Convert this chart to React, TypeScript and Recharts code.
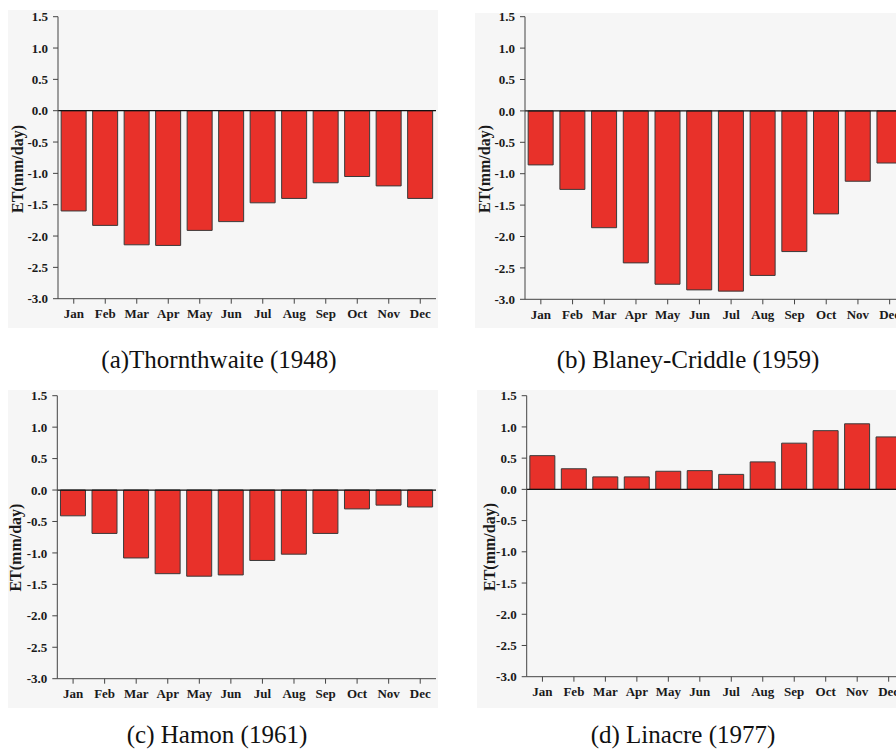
import React from 'react';
import { BarChart, Bar, XAxis, YAxis, ReferenceLine } from 'recharts';

const months = ['Jan', 'Feb', 'Mar', 'Apr', 'May', 'Jun', 'Jul', 'Aug', 'Sep', 'Oct', 'Nov', 'Dec'];
const thornthwaite = [-1.6, -1.83, -2.14, -2.15, -1.91, -1.77, -1.47, -1.4, -1.15, -1.05, -1.2, -1.4];
const blaneyCriddle = [-0.86, -1.25, -1.86, -2.42, -2.76, -2.85, -2.87, -2.62, -2.24, -1.64, -1.12, -0.83];
const hamon = [-0.41, -0.69, -1.08, -1.33, -1.37, -1.35, -1.12, -1.02, -0.69, -0.3, -0.24, -0.27];
const linacre = [0.54, 0.33, 0.2, 0.2, 0.29, 0.3, 0.24, 0.44, 0.74, 0.94, 1.05, 0.84];
const yTicks = [1.5, 1.0, 0.5, 0, -0.5, -1.0, -1.5, -2.0, -2.5, -3.0];
const yLabel = 'ET(mm/day)';

const SERIF = '"Liberation Serif", "Times New Roman", serif';
const BAR_RED = '#e8312a';
const PAD = 10; // extra room above the grey panel so the top tick label is not clipped

interface PanelProps {
  values: number[];
  caption: string;
  box: { left: number; top: number; width: number; height: number };
  margin: { top: number; right: number; left: number; bottom: number };
  xAxisHeight: number;
  labelPos: { x: number; y: number };
  captionPos: { cx: number; top: number };
}

const Panel: React.FC<PanelProps> = ({ values, caption, box, margin, xAxisHeight, labelPos, captionPos }) => {
  const data = months.map((m, i) => ({ month: m, et: values[i] }));
  const tickStyle = { fill: '#1a1a1a', fontFamily: SERIF, fontWeight: 700, fontSize: 13 };
  const lx = labelPos.x;
  const ly = labelPos.y + PAD;

  return (
    <>
      <div style={{ position: 'absolute', left: box.left, top: box.top, width: box.width, height: box.height, background: '#f6f6f6' }} />
      <div style={{ position: 'absolute', left: box.left, top: box.top - PAD, width: box.width, height: box.height + PAD }}>
        <BarChart
          width={box.width}
          height={box.height + PAD}
          data={data}
          margin={{ ...margin, top: margin.top + PAD }}
          barCategoryGap="10%"
        >
          <XAxis
            dataKey="month"
            interval={0}
            height={xAxisHeight}
            tickSize={5}
            tickMargin={5}
            stroke="#444"
            tick={tickStyle}
          />
          <XAxis xAxisId="top" dataKey="month" orientation="top" height={0} tick={false} tickLine={false} stroke="#777" />
          <YAxis
            domain={[-3, 1.5]}
            ticks={yTicks}
            interval={0}
            width={40}
            tickSize={5}
            tickMargin={5}
            stroke="#444"
            tick={tickStyle}
            tickFormatter={(v: number) => v.toFixed(1)}
            label={() => (
              <text
                x={lx}
                y={ly}
                transform={`rotate(-90 ${lx} ${ly})`}
                textAnchor="middle"
                fill="#1a1a1a"
                fontFamily={SERIF}
                fontWeight={700}
                fontSize={16}
              >
                {yLabel}
              </text>
            )}
          />
          <YAxis yAxisId="right" orientation="right" width={0} tick={false} tickLine={false} stroke="#777" />
          <ReferenceLine y={0} stroke="#111" strokeWidth={1.3} />
          <Bar dataKey="et" fill={BAR_RED} stroke="#3a3a3a" strokeWidth={1} isAnimationActive={false} />
        </BarChart>
      </div>
      <div
        style={{
          position: 'absolute',
          left: captionPos.cx - 200,
          top: captionPos.top,
          width: 400,
          textAlign: 'center',
          fontFamily: SERIF,
          fontSize: 25,
          lineHeight: '25px',
          color: '#111',
          whiteSpace: 'nowrap',
        }}
      >
        {caption}
      </div>
    </>
  );
};

export default function App() {
  return (
    <div style={{ position: 'absolute', left: 0, top: 0, width: 896, height: 752, overflow: 'hidden', background: '#fff' }}>
      <Panel
        values={thornthwaite}
        caption="(a)Thornthwaite (1948)"
        box={{ left: 8, top: 10, width: 430, height: 318 }}
        margin={{ top: 6.7, right: 2, left: 10, bottom: 0 }}
        xAxisHeight={29.3}
        labelPos={{ x: 15, y: 159 }}
        captionPos={{ cx: 219, top: 347 }}
      />
      <Panel
        values={blaneyCriddle}
        caption="(b) Blaney-Criddle (1959)"
        box={{ left: 475, top: 13, width: 440, height: 315 }}
        margin={{ top: 3.7, right: 9.5, left: 10, bottom: 0 }}
        xAxisHeight={28.7}
        labelPos={{ x: 15, y: 156 }}
        captionPos={{ cx: 688, top: 347 }}
      />
      <Panel
        values={hamon}
        caption="(c) Hamon (1961)"
        box={{ left: 8, top: 390, width: 430, height: 318 }}
        margin={{ top: 5.7, right: 2, left: 9.3, bottom: 0 }}
        xAxisHeight={29.3}
        labelPos={{ x: 13, y: 157.6 }}
        captionPos={{ cx: 217, top: 722 }}
      />
      <Panel
        values={linacre}
        caption="(d) Linacre (1977)"
        box={{ left: 477, top: 390, width: 440, height: 318 }}
        margin={{ top: 5.7, right: 12.6, left: 9.7, bottom: 0 }}
        xAxisHeight={31.3}
        labelPos={{ x: 18, y: 157 }}
        captionPos={{ cx: 683, top: 722 }}
      />
    </div>
  );
}
